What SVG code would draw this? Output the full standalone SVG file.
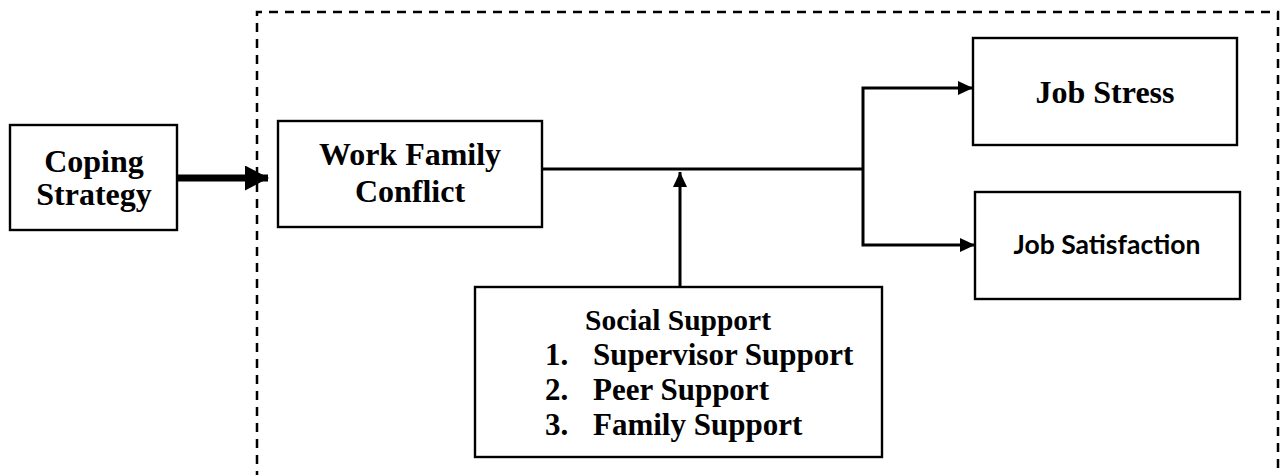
<svg xmlns="http://www.w3.org/2000/svg" width="1285" height="475" viewBox="0 0 1285 475">
<defs>
<style>
.box{fill:#fff;stroke:#000;stroke-width:2.4}
.t{font-family:"Liberation Serif","Times New Roman",serif;font-weight:bold;fill:#000}
.c{text-anchor:middle}
.s{font-family:Lato,"Open Sans",sans-serif;font-weight:bold;fill:#000}
.ln{fill:none;stroke:#000;stroke-width:3}
</style>
<marker id="ah" markerWidth="15" markerHeight="14" refX="15" refY="7" orient="auto" markerUnits="userSpaceOnUse">
<path d="M0,0 L15,7 L0,14 Z" fill="#000"/>
</marker>
<marker id="ahb" markerWidth="25" markerHeight="25" refX="23" refY="12.5" orient="auto" markerUnits="userSpaceOnUse">
<path d="M0,0 L24,12.5 L0,25 Z" fill="#000"/>
</marker>
</defs>
<rect width="1285" height="475" fill="#fff"/>
<g id="boundary">
<path d="M257,480 L257,12 L1278,12 L1278,480" fill="none" stroke="#000" stroke-width="2.5" stroke-dasharray="9,7"/>
</g>
<g id="connectors">
<line x1="177" y1="178" x2="268" y2="178" stroke="#000" stroke-width="7" marker-end="url(#ahb)"/>
<line x1="542" y1="169" x2="864" y2="169" class="ln"/>
<path d="M863,169 L863,88 L973,88" class="ln" marker-end="url(#ah)"/>
<path d="M863,169 L863,245 L975,245" class="ln" marker-end="url(#ah)"/>
<line x1="680" y1="287" x2="680" y2="172" class="ln" marker-end="url(#ah)"/>
</g>
<g id="coping">
<rect class="box" x="10" y="125" width="167" height="105"/>
<text class="t c" x="94" y="172" font-size="32">Coping</text>
<text class="t c" x="94" y="205" font-size="32">Strategy</text>
</g>
<g id="wfc">
<rect class="box" x="278" y="121" width="264" height="106"/>
<text class="t c" x="410" y="165" font-size="32">Work Family</text>
<text class="t c" x="410" y="202" font-size="32">Conflict</text>
</g>
<g id="jobstress">
<rect class="box" x="973" y="38" width="264" height="107"/>
<text class="t c" x="1105" y="103" font-size="32">Job Stress</text>
</g>
<g id="jobsat">
<rect class="box" x="975" y="192" width="265" height="107"/>
<text class="s c" x="1107" y="254" font-size="26.5">Job Satisfaction</text>
</g>
<g id="social">
<rect class="box" x="475" y="287" width="407" height="170"/>
<text class="t c" x="678" y="330" font-size="29.5">Social Support</text>
<text class="t" x="545" y="365" font-size="31">1.</text>
<text class="t" x="593" y="365" font-size="31">Supervisor Support</text>
<text class="t" x="545" y="400" font-size="31">2.</text>
<text class="t" x="593" y="400" font-size="31">Peer Support</text>
<text class="t" x="545" y="435" font-size="31">3.</text>
<text class="t" x="593" y="435" font-size="31">Family Support</text>
</g>
</svg>
